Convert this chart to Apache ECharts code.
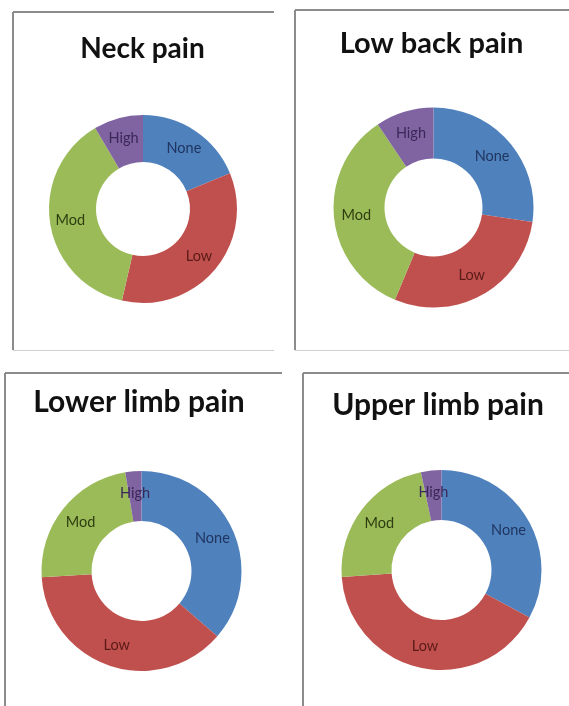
<!DOCTYPE html>
<html>
<head>
<meta charset="utf-8">
<script src="https://cdn.jsdelivr.net/npm/echarts@6/dist/echarts.min.js"></script>
<style>
html,body{margin:0;padding:0;background:#fff;}
#c{width:569px;height:706px;}
</style>
</head>
<body>
<div id="c"></div>
<script>
const categories = ['None', 'Low', 'Mod', 'High'];
const panelTitles = ['Neck pain', 'Low back pain', 'Lower limb pain', 'Upper limb pain'];
const neckPain = [18.8, 34.8, 37.9, 8.5];
const lowBackPain = [27.3, 29.0, 34.3, 9.4];
const lowerLimbPain = [36.3, 37.7, 23.4, 2.6];
const upperLimbPain = [32.9, 41.0, 22.8, 3.3];
const seriesValues = [neckPain, lowBackPain, lowerLimbPain, upperLimbPain];

const sliceColors = ['#4F81BD', '#C0504D', '#9BBB59', '#8064A2'];
const labelColors = ['#1F3560', '#5A1A18', '#2E3D10', '#3A2858'];

// layout per panel
const centers = [[143, 209], [433.5, 207.5], [141.5, 571], [441.5, 570]];
const radii = [[47, 94], [49, 100], [50, 100], [50, 100]];
const titlePos = [[142.5, 35], [431.5, 29.5], [139, 387.5], [438, 390]];
const titleSizes = [28, 29, 30, 30];

const chart = echarts.init(document.getElementById('c'), null, {renderer: 'canvas'});

const titleFont = 'Lato, "Open Sans", sans-serif';

const option = {
  backgroundColor: '#ffffff',
  animation: false,
  title: panelTitles.map((t, i) => ({
    text: t,
    left: titlePos[i][0],
    top: titlePos[i][1],
    textAlign: 'center',
    padding: 0,
    textStyle: {fontFamily: titleFont, fontWeight: 'bold', fontSize: titleSizes[i], color: '#111'}
  })),
  graphic: [
    // panel 1 frame
    {type: 'line', shape: {x1: 13, y1: 12, x2: 274, y2: 12}, style: {stroke: '#8c8c8c', lineWidth: 2}},
    {type: 'line', shape: {x1: 13, y1: 12, x2: 13, y2: 350}, style: {stroke: '#8c8c8c', lineWidth: 2}},
    {type: 'line', shape: {x1: 13, y1: 350.5, x2: 274, y2: 350.5}, style: {stroke: '#d0d0d0', lineWidth: 1}},
    // panel 2 frame
    {type: 'line', shape: {x1: 295, y1: 10, x2: 569, y2: 10}, style: {stroke: '#8c8c8c', lineWidth: 2}},
    {type: 'line', shape: {x1: 295, y1: 10, x2: 295, y2: 350}, style: {stroke: '#8c8c8c', lineWidth: 2}},
    {type: 'line', shape: {x1: 295, y1: 350.5, x2: 569, y2: 350.5}, style: {stroke: '#d0d0d0', lineWidth: 1}},
    // panel 3 frame
    {type: 'line', shape: {x1: 5, y1: 373, x2: 282, y2: 373}, style: {stroke: '#8c8c8c', lineWidth: 2}},
    {type: 'line', shape: {x1: 5, y1: 373, x2: 5, y2: 706}, style: {stroke: '#8c8c8c', lineWidth: 2}},
    // panel 4 frame
    {type: 'line', shape: {x1: 303, y1: 373, x2: 569, y2: 373}, style: {stroke: '#8c8c8c', lineWidth: 2}},
    {type: 'line', shape: {x1: 303, y1: 373, x2: 303, y2: 706}, style: {stroke: '#8c8c8c', lineWidth: 2}}
  ],
  series: seriesValues.map((vals, i) => ({
    type: 'pie',
    name: panelTitles[i],
    center: centers[i],
    radius: radii[i],
    startAngle: 90,
    clockwise: true,
    avoidLabelOverlap: false,
    silent: true,
    itemStyle: {borderWidth: 0},
    label: {
      show: true,
      position: 'inside',
      formatter: '{b}',
      fontFamily: titleFont,
      fontSize: 14.5
    },
    labelLine: {show: false},
    data: categories.map((c, j) => ({
      name: c,
      value: vals[j],
      itemStyle: {color: sliceColors[j]},
      label: {color: labelColors[j]}
    }))
  }))
};

chart.setOption(option);
</script>
</body>
</html>
